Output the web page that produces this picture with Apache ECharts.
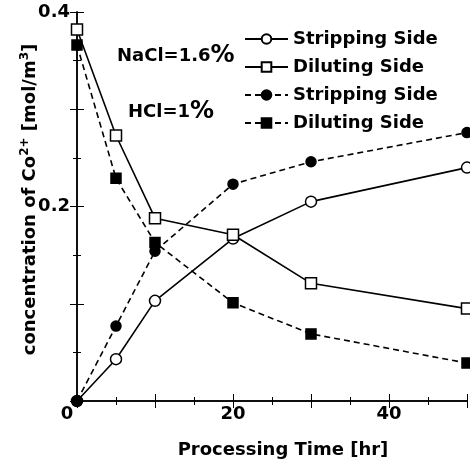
<!DOCTYPE html>
<html>
<head>
<meta charset="utf-8">
<script src="https://cdn.jsdelivr.net/npm/echarts@6/dist/echarts.min.js"></script>
<style>html,body{margin:0;padding:0;background:#fff;}#c{width:470px;height:464px;}</style>
</head>
<body>
<div id="c"></div>
<script>
const time = [0, 5, 10, 20, 30, 50];
const strippingNaCl = [0, 0.043, 0.103, 0.167, 0.205, 0.240];
const dilutingNaCl = [0.382, 0.273, 0.188, 0.171, 0.121, 0.095];
const strippingHCl = [0, 0.077, 0.154, 0.223, 0.246, 0.276];
const dilutingHCl = [0.366, 0.229, 0.163, 0.101, 0.069, 0.039];
const legendLabels = ['Stripping Side', 'Diluting Side', 'Stripping Side', 'Diluting Side'];
const seriesKeys = ['s1', 'd1', 's2', 'd2'];
const xLabels = [0, 20, 40];
const yLabels = [0.2, 0.4];

const FONT = '"DejaVu Sans", sans-serif';
const pair = (vals) => time.map((t, i) => [t, vals[i]]);

function mk(key, vals, symbol, filled, dashed, size) {
  return {
    name: key, type: 'line', data: pair(vals),
    symbol: symbol, symbolSize: size,
    lineStyle: { color: '#000', width: 1.6, type: dashed ? [6, 4] : 'solid' },
    itemStyle: { color: filled ? '#000' : '#fff', borderColor: '#000', borderWidth: 1.5 },
    emphasis: { disabled: true },
    animation: false
  };
}

const chart = echarts.init(document.getElementById('c'));
chart.setOption({
  backgroundColor: '#fff',
  animation: false,
  grid: { left: 77, right: 2, top: 12, bottom: 63 },
  legend: {
    data: seriesKeys,
    orient: 'vertical',
    left: 239, top: 25,
    itemWidth: 43, itemHeight: 12, itemGap: 10,
    formatter: (n) => legendLabels[seriesKeys.indexOf(n)],
    textStyle: { fontFamily: FONT, fontWeight: 'bold', fontSize: 18, color: '#000' },
    selectedMode: false
  },
  xAxis: [{
    type: 'value', min: 0, max: 50, interval: 10,
    name: 'Processing Time [hr]', nameLocation: 'middle', nameGap: 40,
    nameMoveOverlap: false,
    nameTextStyle: { fontFamily: FONT, fontWeight: 'bold', fontSize: 18, color: '#000', padding: [0, 0, 0, 22] },
    axisLine: { show: true, lineStyle: { color: '#000', width: 1.5 } },
    axisTick: { show: true, inside: true, length: 7, lineStyle: { color: '#000', width: 1 } },
    minorTick: { show: true, splitNumber: 2, length: 4, lineStyle: { color: '#000' } },
    splitLine: { show: false },
    axisLabel: {
      margin: 4,
      fontFamily: FONT, fontWeight: 'bold', fontSize: 18, color: '#000',
      formatter: (v) => xLabels.indexOf(v) < 0 ? '' : (v === 0 ? '{z|0}' : String(v)),
      rich: { z: { fontFamily: FONT, fontWeight: 'bold', fontSize: 18, color: '#000', padding: [0, 20, 0, 0] } }
    }
  }, {
    type: 'value', min: 0, max: 50, interval: 10, position: 'top',
    axisLine: { show: true, lineStyle: { color: '#000', width: 1.5 } },
    axisTick: { show: true, inside: true, length: 7, lineStyle: { color: '#000' } },
    minorTick: { show: true, splitNumber: 2, length: 4, lineStyle: { color: '#000' } },
    axisLabel: { show: false }, splitLine: { show: false }
  }],
  yAxis: [{
    type: 'value', min: 0, max: 0.4, interval: 0.1,
    name: 'concentration of Co{sup|2+} [mol/m{sup|3}]',
    nameLocation: 'middle', nameGap: 36, nameRotate: 90,
    nameMoveOverlap: false,
    nameTextStyle: {
      fontFamily: FONT, fontWeight: 'bold', fontSize: 18, color: '#000', padding: [0, 0, 0, 14],
      rich: { sup: { fontFamily: FONT, fontWeight: 'bold', fontSize: 12, color: '#000', verticalAlign: 'top', padding: [0, 0, 10, 0] } }
    },
    axisLine: { show: true, lineStyle: { color: '#000', width: 1.5 } },
    axisTick: { show: true, inside: true, length: 7, lineStyle: { color: '#000' } },
    minorTick: { show: true, splitNumber: 2, length: 4, lineStyle: { color: '#000' } },
    splitLine: { show: false },
    axisLabel: {
      margin: 7, fontFamily: FONT, fontWeight: 'bold', fontSize: 18, color: '#000',
      formatter: (v) => yLabels.some(l => Math.abs(l - v) < 1e-9) ? v.toFixed(1) : ''
    }
  }, {
    type: 'value', min: 0, max: 0.4, interval: 0.1, position: 'right',
    axisLine: { show: true, lineStyle: { color: '#000', width: 1.5 } },
    axisTick: { show: true, inside: true, length: 7, lineStyle: { color: '#000' } },
    minorTick: { show: true, splitNumber: 2, length: 4, lineStyle: { color: '#000' } },
    axisLabel: { show: false }, splitLine: { show: false }
  }],
  graphic: [
    { type: 'text', left: 117, top: 44, style: { text: 'NaCl=1.6{p|%}', fontFamily: FONT, fontWeight: 'bold', fontSize: 18, fill: '#000',
      rich: { p: { fontFamily: FONT, fontWeight: 'bold', fontSize: 24, fill: '#000' } } } },
    { type: 'text', left: 128, top: 100, style: { text: 'HCl=1{p|%}', fontFamily: FONT, fontWeight: 'bold', fontSize: 18, fill: '#000',
      rich: { p: { fontFamily: FONT, fontWeight: 'bold', fontSize: 24, fill: '#000' } } } }
  ],
  series: [
    mk('s1', strippingNaCl, 'circle', false, false, 11),
    mk('d1', dilutingNaCl, 'rect', false, false, 11),
    mk('s2', strippingHCl, 'circle', true, true, 10),
    mk('d2', dilutingHCl, 'rect', true, true, 10)
  ]
});
</script>
</body>
</html>
